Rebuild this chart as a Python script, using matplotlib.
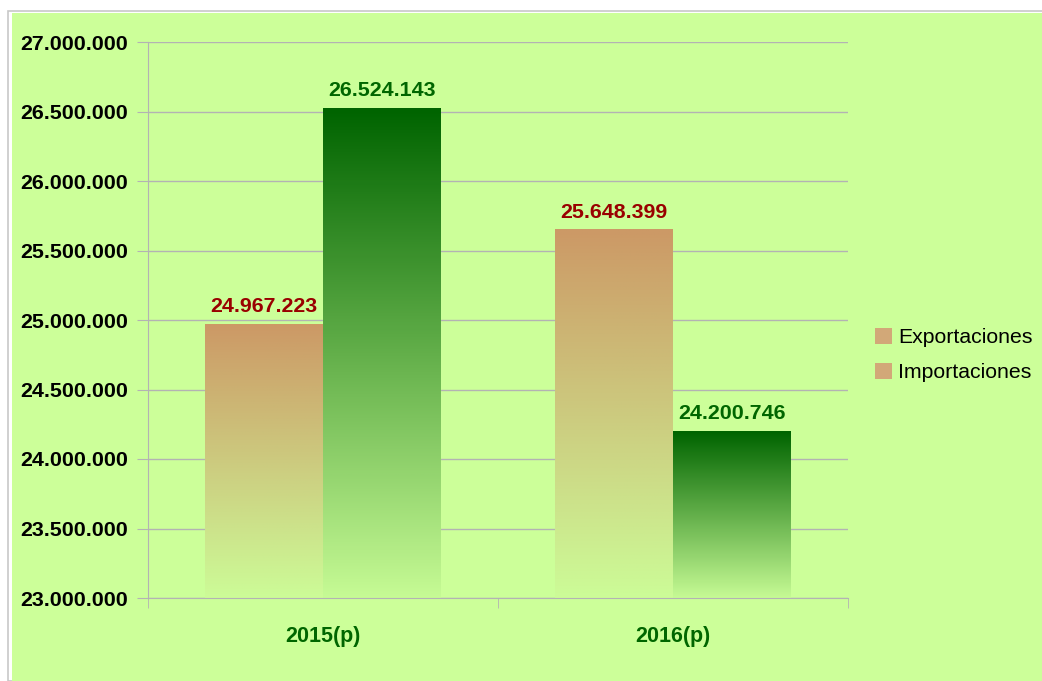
import matplotlib.pyplot as plt
import numpy as np
from matplotlib.colors import LinearSegmentedColormap, to_rgb
from matplotlib.patches import Rectangle, Patch

# data
categories = ["2015(p)", "2016(p)"]
series = ["Exportaciones", "Importaciones"]
exportaciones = [24967223, 25648399]
importaciones = [26524143, 24200746]
y_ticks = [23000000, 23500000, 24000000, 24500000, 25000000, 25500000, 26000000, 26500000, 27000000]

BG = "#CCFF99"
GRID = "#B3B3B3"
EXP_TOP = "#CC9966"
IMP_TOP = "#006400"
EXP_TXT = "#990000"
IMP_TXT = "#006600"

plt.rcParams["font.family"] = ["Liberation Sans", "DejaVu Sans"]


def fmt(v):
    return f"{v:,}".replace(",", ".")


fig = plt.figure(figsize=(10.42, 6.81), dpi=100)
fig.patch.set_facecolor("white")

# outer frame and green panel
fig.add_artist(Rectangle((8 / 1042, 0), 1.0, 1 - 11 / 681, transform=fig.transFigure,
                         facecolor="none", edgecolor="#C8C8C8", lw=1.2, zorder=0))
fig.add_artist(Rectangle((12 / 1042, 0), 1.0, 1 - 13 / 681, transform=fig.transFigure,
                         facecolor=BG, edgecolor="none", zorder=0))

ax = fig.add_axes([148 / 1042, 83 / 681, 700 / 1042, 556 / 681])
ax.set_facecolor("none")

x = np.arange(len(categories))
w = 0.337
ymin, ymax = y_ticks[0], y_ticks[-1]


def gradient_bars(xs, vals, top_color):
    cmap = LinearSegmentedColormap.from_list("g", [to_rgb(BG), to_rgb(top_color)])
    grad = np.linspace(0.03, 1, 256).reshape(-1, 1)
    bars = ax.bar(xs, np.array(vals) - ymin, bottom=ymin, width=w,
                  facecolor="none", edgecolor="none")
    for b in bars:
        x0, y0 = b.get_x(), b.get_y()
        ax.imshow(grad, cmap=cmap, vmin=0, vmax=1, origin="lower", aspect="auto",
                  extent=(x0, x0 + b.get_width(), y0, y0 + b.get_height()), zorder=2)
    return bars


bars_exp = gradient_bars(x - w / 2, exportaciones, EXP_TOP)
bars_imp = gradient_bars(x + w / 2, importaciones, IMP_TOP)

for bars, vals, c in [(bars_exp, exportaciones, EXP_TXT), (bars_imp, importaciones, IMP_TXT)]:
    for b, v in zip(bars, vals):
        ax.annotate(fmt(v), (b.get_x() + b.get_width() / 2, v), xytext=(0, 6),
                    textcoords="offset points", ha="center", va="bottom",
                    fontsize=15.4, fontweight="bold", color=c, zorder=4)

ax.set_xlim(-0.5, len(categories) - 0.5)
ax.set_ylim(ymin, ymax)

ax.set_yticks(y_ticks)
ax.set_yticklabels([fmt(t) for t in y_ticks], fontsize=15.4, fontweight="bold")
ax.tick_params(axis="y", length=8, color=GRID, pad=6.5)
ax.grid(axis="y", color=GRID, lw=1, zorder=1)
ax.set_axisbelow(True)

ax.set_xticks(x)
ax.set_xticklabels(categories, fontsize=15.5, fontweight="bold", color=IMP_TXT)
ax.tick_params(axis="x", which="major", length=0, pad=20)
ax.set_xticks(np.arange(-0.5, len(categories)), minor=True)
ax.tick_params(axis="x", which="minor", length=7, color=GRID)

for s in ["top", "right"]:
    ax.spines[s].set_visible(False)
for s in ["left", "bottom"]:
    ax.spines[s].set_color(GRID)

handles = [Patch(facecolor="#D2A878", edgecolor="none") for _ in series]
fig.legend(handles, series, loc="center left", bbox_to_anchor=(856 / 1042, 1 - 355 / 681),
           frameon=False, fontsize=15.3, handlelength=0.8, handleheight=0.8,
           handletextpad=0.3, labelspacing=0.75)

fig.savefig("out.png", dpi=100, facecolor=fig.get_facecolor())
